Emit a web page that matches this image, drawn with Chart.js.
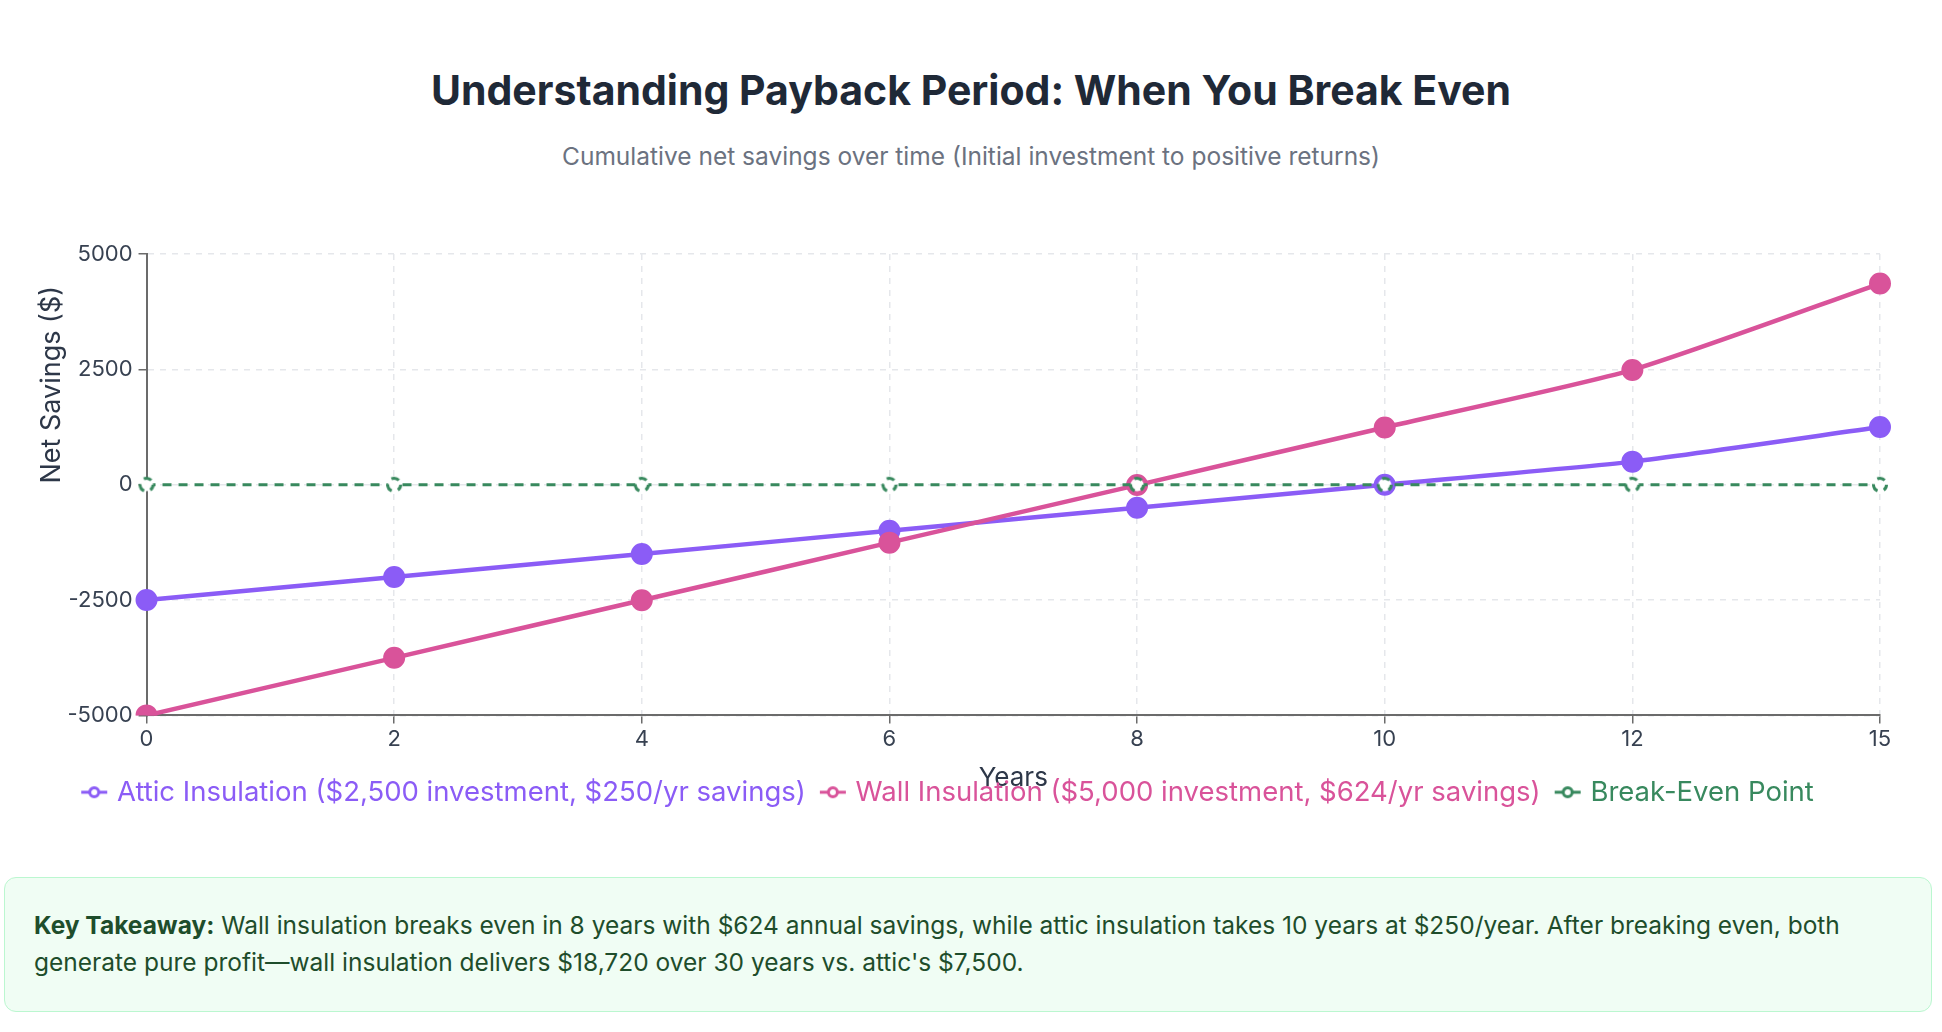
<!DOCTYPE html>
<html>
<head>
<meta charset="utf-8">
<script src="https://cdn.jsdelivr.net/npm/chart.js@4.4.1/dist/chart.umd.min.js"></script>
<style>
	body { margin: 0; background: #fff; font-family: Inter, "Noto Sans", sans-serif; width: 1942px; height: 1032px; position: relative; overflow: hidden; }
	h1 { position: absolute; left: 0; width: 1942px; top: 64px; margin: 0; text-align: center; font-size: 41px; font-weight: 700; color: #1f2937; line-height: 52px; }
	.sub { position: absolute; left: 0; width: 1942px; top: 141px; text-align: center; font-size: 24.5px; color: #6b7280; line-height: 30px; }
	.wrap { position: absolute; left: 0; top: 228px; width: 1942px; height: 588px; }
	.note { position: absolute; left: 4px; top: 877px; width: 1868px; height: 75px; padding: 29px 29px; background: #f0fdf4; border: 1px solid #bbf7d0; border-radius: 12px; font-size: 24.5px; line-height: 37px; color: #1e4d2b; }
</style>
</head>
<body>
<h1>Understanding Payback Period: When You Break Even</h1>
<div class="sub">Cumulative net savings over time (Initial investment to positive returns)</div>
<div class="wrap"><canvas id="myChart"></canvas></div>
<div class="note"><b>Key Takeaway:</b> Wall insulation breaks even in 8 years with $624 annual savings, while attic insulation takes 10 years at $250/year. After breaking even, both generate pure profit—wall insulation delivers $18,720 over 30 years vs. attic's $7,500.</div>
<script>
const years = ['0', '2', '4', '6', '8', '10', '12', '15']
const attic = [-2500, -2000, -1500, -1000, -500, 0, 500, 1250]
const wall = [-5000, -3752, -2504, -1256, -8, 1240, 2488, 4360]
const breakEven = [0, 0, 0, 0, 0, 0, 0, 0]
const yTicks = [-5000, -2500, 0, 2500, 5000]
const yTitle = 'Net Savings ($)'

const purple = '#8b5cf6'
const pink = '#d9539a'
const green = '#38895e'

// little "-o-" icon for the legend
function legendIcon(color){
	const c = document.createElement('canvas')
	c.width = 28
	c.height = 16
	const g = c.getContext('2d')
	g.strokeStyle = color
	g.lineWidth = 3
	g.beginPath()
	g.moveTo(1, 8)
	g.lineTo(27, 8)
	g.stroke()
	g.beginPath()
	g.arc(14, 8, 4.5, 0, Math.PI * 2)
	g.fillStyle = '#fff'
	g.fill()
	g.stroke()
	return c
}

// dashed ring used for the break-even markers
function dashedRing(color){
	const c = document.createElement('canvas')
	c.width = 20
	c.height = 20
	const g = c.getContext('2d')
	g.beginPath()
	g.arc(10, 10, 6.5, 0, Math.PI * 2)
	g.fillStyle = '#fff'
	g.fill()
	g.strokeStyle = color
	g.lineWidth = 3
	g.setLineDash([8, 6.5])
	g.lineDashOffset = 2
	g.stroke()
	return c
}

// y title sits higher than the axis middle in the original
const yTitlePlugin = {
	id: 'yTitle',
	afterDraw(chart){
		const { ctx, chartArea, scales } = chart
		ctx.save()
		ctx.font = '27px Inter'
		ctx.fillStyle = '#2d3748'
		ctx.textAlign = 'center'
		ctx.textBaseline = 'middle'
		ctx.translate(scales.y.left + 33, (chartArea.top + chartArea.bottom) / 2 - 100)
		ctx.rotate(-Math.PI / 2)
		ctx.fillText(yTitle, 0, 0)
		ctx.restore()
	}
}

const icons = [legendIcon(purple), legendIcon(pink), legendIcon(green)]
const colors = [purple, pink, green]

const context = document.getElementById('myChart')
const items = {
	labels: years,
	datasets: [
		{
			label: 'Attic Insulation ($2,500 investment, $250/yr savings)',
			data: attic,
			borderColor: purple,
			backgroundColor: purple,
			borderWidth: 4.5,
			pointRadius: 10,
			pointBorderWidth: 2,
			tension: 0.2,
			order: 2
		},
		{
			label: 'Wall Insulation ($5,000 investment, $624/yr savings)',
			data: wall,
			borderColor: pink,
			backgroundColor: pink,
			borderWidth: 4.5,
			pointRadius: 10,
			pointBorderWidth: 2,
			tension: 0.2,
			order: 1
		},
		{
			label: 'Break-Even Point',
			data: breakEven,
			borderColor: green,
			backgroundColor: '#fff',
			borderWidth: 3,
			borderDash: [9, 7],
			pointStyle: dashedRing(green),
			pointRadius: 7,
			order: 0
		}
	]
}
const config = {
	type: 'line',
	data: items,
	options: {
		responsive: true,
		maintainAspectRatio: false,
		animation: false,
		layout: { padding: { left: 19, right: 62, top: 26, bottom: 0 } },
		plugins: {
			tooltip: { enabled: false },
			legend: {
				position: 'bottom',
				labels: {
					usePointStyle: true,
					boxWidth: 18,
					padding: 18,
					font: { family: 'Inter', size: 27.5 },
					generateLabels: chart => {
						const list = Chart.defaults.plugins.legend.labels.generateLabels(chart)
						list.sort((a, b) => a.datasetIndex - b.datasetIndex)
						list.forEach(e => {
							e.pointStyle = icons[e.datasetIndex]
							e.fontColor = colors[e.datasetIndex]
						})
						return list
					}
				}
			}
		},
		scales: {
			x: {
				title: { display: true, text: 'Years', color: '#2d3748', font: { family: 'Inter', size: 26 }, padding: { top: 7, bottom: -33.5 } },
				ticks: { color: '#374151', font: { family: 'Inter', size: 22 }, padding: 3 },
				grid: { color: '#e5e7eb', tickColor: '#6b6b6b', tickLength: 8, lineWidth: 1.5 },
				border: { color: '#6b6b6b', width: 2, dash: [6, 6] }
			},
			y: {
				min: -5000,
				max: 5000,
				afterBuildTicks: axis => { axis.ticks = yTicks.map(v => ({ value: v })) },
				title: { display: true, text: yTitle, color: 'transparent', font: { family: 'Inter', size: 27 }, padding: { top: 0, bottom: 10 } },
				ticks: { color: '#374151', font: { family: 'Inter', size: 22 }, padding: 6, callback: v => String(v) },
				grid: { color: '#e5e7eb', tickColor: '#6b6b6b', tickLength: 8, lineWidth: 1.5 },
				border: { color: '#6b6b6b', width: 2, dash: [6, 6] }
			}
		}
	},
	plugins: [yTitlePlugin]
}
const myChart = new Chart(context, config)
</script>
</body>
</html>
